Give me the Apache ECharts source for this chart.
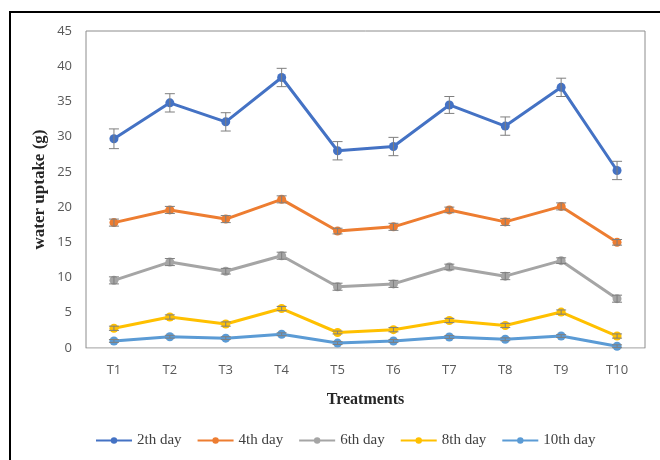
<!DOCTYPE html>
<html><head><meta charset="utf-8">
<script src="https://cdn.jsdelivr.net/npm/echarts@6/dist/echarts.min.js"></script>
<style>html,body{margin:0;padding:0;background:#fff}#c{width:660px;height:460px}</style>
</head><body><div id="c"></div>
<script>
var categories = ['T1','T2','T3','T4','T5','T6','T7','T8','T9','T10'];
var seriesNames = ['2th day','4th day','6th day','8th day','10th day'];
var day2 = [29.7,34.8,32.1,38.4,28.0,28.6,34.5,31.5,37.0,25.2];
var day4 = [17.8,19.6,18.3,21.1,16.6,17.2,19.6,17.9,20.1,15.0];
var day6 = [9.6,12.2,10.9,13.1,8.7,9.1,11.5,10.2,12.4,7.0];
var day8 = [2.8,4.4,3.4,5.6,2.2,2.6,3.9,3.2,5.1,1.7];
var day10 = [1.0,1.6,1.4,1.95,0.7,1.0,1.56,1.24,1.7,0.25];
var err2 = [1.4,1.3,1.3,1.3,1.3,1.3,1.2,1.3,1.3,1.3];
var err4 = [0.5,0.5,0.5,0.5,0.4,0.5,0.4,0.5,0.5,0.4];
var err6 = [0.5,0.5,0.4,0.5,0.5,0.5,0.4,0.5,0.4,0.5];
var err8 = [0.3,0.3,0.3,0.3,0.2,0.3,0.3,0.3,0.3,0.3];
var err10 = [0.2,0.2,0.2,0.2,0.2,0.2,0.2,0.2,0.2,0.2];
var yTicks = [0,5,10,15,20,25,30,35,40,45];

var colors = ['#4472C4','#ED7D31','#A5A5A5','#FFC000','#5B9BD5'];
var values = [day2, day4, day6, day8, day10];
var errs = [err2, err4, err6, err8, err10];

var chart = echarts.init(document.getElementById('c'));
var series = [];
values.forEach(function(v, i){
  series.push({
    name: seriesNames[i], type: 'line', data: v,
    symbol: 'circle', symbolSize: 9,
    lineStyle: {width: 3, color: colors[i]},
    itemStyle: {color: colors[i]},
    z: 3
  });
});
values.forEach(function(v, i){
  series.push({
    type: 'custom', silent: true, z: 4,
    data: v.map(function(y, k){ return [k, y - errs[i][k], y + errs[i][k]]; }),
    renderItem: function(params, api){
      var lo = api.coord([api.value(0), api.value(1)]);
      var hi = api.coord([api.value(0), api.value(2)]);
      var hw = 5;
      var st = {stroke: '#7f7f7f', lineWidth: 1};
      return {type: 'group', children: [
        {type: 'line', shape: {x1: lo[0], y1: lo[1], x2: hi[0], y2: hi[1]}, style: st},
        {type: 'line', shape: {x1: lo[0]-hw, y1: lo[1], x2: lo[0]+hw, y2: lo[1]}, style: st},
        {type: 'line', shape: {x1: hi[0]-hw, y1: hi[1], x2: hi[0]+hw, y2: hi[1]}, style: st}
      ]};
    }
  });
});

chart.setOption({
  animation: false,
  backgroundColor: '#fff',
  graphic: [{type: 'rect', shape: {x: 10, y: 12, width: 700, height: 500},
    style: {fill: 'none', stroke: '#000', lineWidth: 2}, silent: true}],
  grid: {left: 86, top: 31, right: 15, bottom: 112, show: true, borderColor: '#8c8c8c', borderWidth: 1},
  legend: {
    data: seriesNames, bottom: 7, left: 90, itemGap: 15, itemWidth: 36, itemHeight: 8,
    textStyle: {fontFamily: 'Liberation Serif', fontSize: 15, color: '#404040'}
  },
  xAxis: {
    type: 'category', data: categories, boundaryGap: true,
    name: 'Treatments', nameLocation: 'middle', nameGap: 44,
    nameTextStyle: {fontFamily: 'Liberation Serif', fontWeight: 'bold', fontSize: 16, color: '#262626'},
    axisLine: {lineStyle: {color: '#d9d9d9', width: 1}},
    axisTick: {show: false},
    axisLabel: {fontFamily: 'Open Sans', fontSize: 13, color: '#595959', margin: 16}
  },
  yAxis: {
    type: 'value', min: 0, max: 45, interval: 5,
    name: 'water uptake (g)', nameLocation: 'middle', nameGap: 38, nameRotate: 90,
    nameMoveOverlap: false,
    nameTextStyle: {fontFamily: 'Liberation Serif', fontWeight: 'bold', fontSize: 17, color: '#262626'},
    axisLine: {show: false}, axisTick: {show: false}, splitLine: {show: false},
    axisLabel: {fontFamily: 'Open Sans', fontSize: 13, color: '#595959', margin: 14,
      formatter: function(v){ return yTicks.indexOf(v) >= 0 ? String(v) : ''; }}
  },
  series: series
});
</script>
</body></html>
